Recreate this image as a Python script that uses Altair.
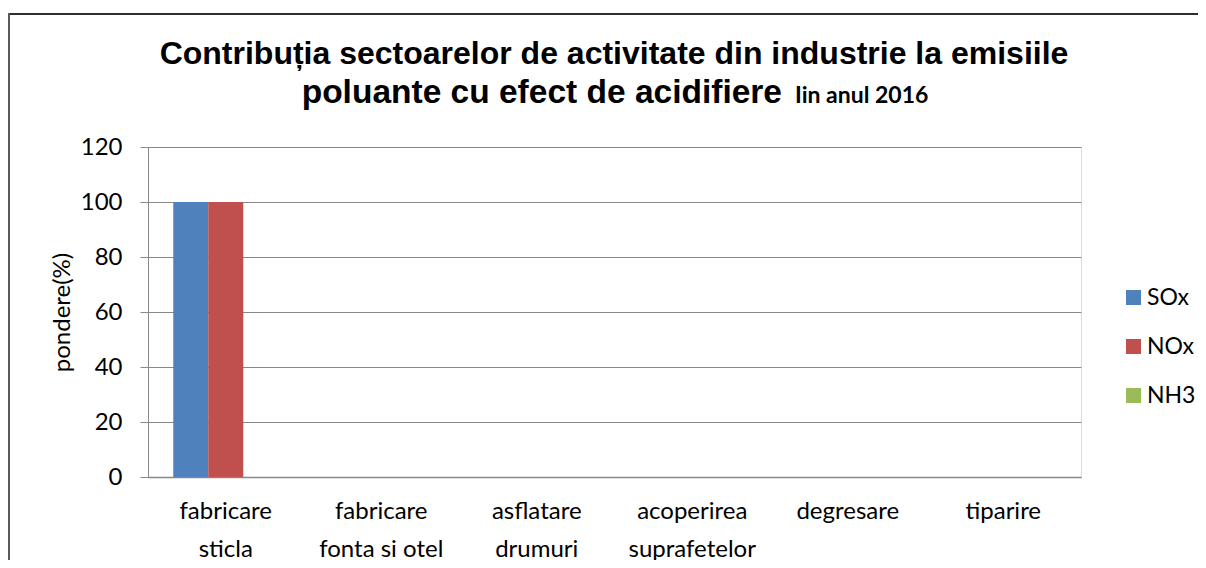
import altair as alt
import pandas as pd

# ---- data ----
categories = ["fabricare\nsticla", "fabricare\nfonta si otel", "asflatare\ndrumuri",
              "acoperirea\nsuprafetelor", "degresare", "tiparire"]
series = ["SOx", "NOx", "NH3"]
sox = [100, 0, 0, 0, 0, 0]
nox = [100, 0, 0, 0, 0, 0]
nh3 = [0, 0, 0, 0, 0, 0]
colors = ["#4F81BD", "#C0504D", "#9BBB59"]
y_ticks = [0, 20, 40, 60, 80, 100, 120]
title_line1 = "Contribuția sectoarelor de activitate din industrie la emisiile"
title_line2a = "poluante cu efect de acidifiere"
title_line2b = "Iin anul 2016"
y_title = "pondere(%)"

rows = []
for name, vals in zip(series, [sox, nox, nh3]):
    for c, v in zip(categories, vals):
        rows.append({"sector": c, "poluant": name, "pondere": v})
df = pd.DataFrame(rows)

GRID = "#898989"
FONT = "Lato"

bars = alt.Chart(df).mark_bar().encode(
    x=alt.X("sector:N", sort=categories,
            scale=alt.Scale(paddingInner=0.325, paddingOuter=0.1625),
            axis=alt.Axis(title=None, labelAngle=0, labelExpr="split(datum.label, '\\n')",
                          ticks=False, domainColor=GRID, domainWidth=1.5, grid=False,
                          labelFont=FONT, labelFontSize=24, labelColor="#000000",
                          labelPadding=22, labelLineHeight=38, labelLimit=0)),
    xOffset=alt.XOffset("poluant:N", sort=series),
    y=alt.Y("pondere:Q", scale=alt.Scale(domain=[0, 120]),
            axis=alt.Axis(values=y_ticks, grid=True, gridColor=GRID, gridWidth=1,
                          domainColor=GRID, tickColor=GRID, tickSize=8,
                          labelFont=FONT, labelFontSize=24, labelColor="#000000", labelPadding=18,
                          title=y_title, titleFont=FONT, titleFontSize=24, titleFontWeight="normal",
                          titleColor="#000000", titleAngle=270, titleX=-86, titleY=165,
                          titleAlign="center", titleBaseline="middle")),
    color=alt.Color("poluant:N", sort=series,
                    scale=alt.Scale(domain=series, range=colors),
                    legend=alt.Legend(title=None, orient="none", legendX=974, legendY=139,
                                      symbolType="square", symbolSize=225, symbolStrokeWidth=0,
                                      labelFont=FONT, labelFontSize=23, labelColor="#000000",
                                      labelOffset=2, rowPadding=25, padding=0, labelLimit=0)),
)

frame_top = alt.Chart(alt.Data(values=[{}])).mark_rule(
    stroke="#2e2e2e", strokeWidth=2
).encode(x=alt.value(-140), x2=alt.value(1050), y=alt.value(-133))

frame_left = alt.Chart(alt.Data(values=[{}])).mark_rule(
    stroke="#5a5a5a", strokeWidth=2
).encode(x=alt.value(-139), y=alt.value(-134), y2=alt.value(413))

t1 = alt.Chart(alt.Data(values=[{"t": title_line1}])).mark_text(
    font="Liberation Sans", fontWeight="bold", fontSize=32, align="center", baseline="alphabetic",
    color="#000000"
).encode(x=alt.value(466), y=alt.value(-83), text="t:N")

t2a = alt.Chart(alt.Data(values=[{"t": title_line2a}])).mark_text(
    font="Liberation Sans", fontWeight="bold", fontSize=33.5, align="right", baseline="alphabetic",
    color="#000000"
).encode(x=alt.value(634), y=alt.value(-44), text="t:N")

t2b = alt.Chart(alt.Data(values=[{"t": title_line2b}])).mark_text(
    font=FONT, fontWeight="bold", fontSize=23, align="left", baseline="alphabetic",
    color="#000000"
).encode(x=alt.value(647), y=alt.value(-44), text="t:N")

chart = alt.layer(frame_top, frame_left, bars, t1, t2a, t2b).properties(
    width=933, height=330,
    padding={"left": 140, "top": 139, "right": 117, "bottom": 83},
    autosize=alt.AutoSizeParams(type="none"),
).configure_view(strokeWidth=0).configure(background="white")

chart.save("out.html", embed_options={"renderer": "svg", "actions": False})
